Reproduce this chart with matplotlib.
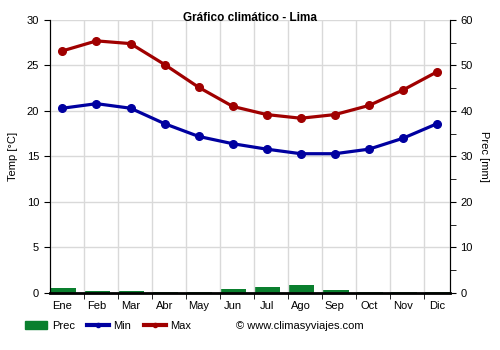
import matplotlib
matplotlib.use("Agg")
import matplotlib.pyplot as plt
from matplotlib.lines import Line2D
from matplotlib.patches import Patch

meses = ["Ene", "Feb", "Mar", "Abr", "May", "Jun", "Jul", "Ago", "Sep", "Oct", "Nov", "Dic"]
t_max = [26.6, 27.7, 27.4, 25.1, 22.6, 20.5, 19.6, 19.2, 19.6, 20.6, 22.3, 24.3]
t_min = [20.3, 20.8, 20.3, 18.6, 17.2, 16.4, 15.8, 15.3, 15.3, 15.8, 17.0, 18.6]
prec = [1.0, 0.4, 0.4, 0.3, 0.3, 0.8, 1.3, 1.7, 0.7, 0.3, 0.3, 0.3]

C_PREC = "#0a7f2e"
C_MIN = "#0000a0"
C_MAX = "#a00000"

plt.rcParams["font.family"] = ["Liberation Sans", "DejaVu Sans"]

fig = plt.figure(figsize=(5, 3.5), dpi=100)
ax = fig.add_axes([0.099, 0.163, 0.801, 0.780])
ax2 = ax.twinx()

x = list(range(len(meses)))
off = 0.38

# precipitation bars on the right axis, drawn under the temperature lines
ax2.bar([i - off for i in x], prec, width=0.78, align="edge", color=C_PREC, zorder=2)
ax2.set_ylim(0, 60)
ax2.set_yticks(range(0, 61, 10))
ax2.set_yticks(range(5, 60, 10), minor=True)
ax2.tick_params(axis="y", which="both", labelsize=8, length=4, direction="out")
ax2.set_ylabel("Prec [mm]", fontsize=8, rotation=-90, labelpad=12)

ax.set_zorder(ax2.get_zorder() + 1)
ax.patch.set_visible(False)

ax.plot(x, t_max, color=C_MAX, lw=2.3, marker="o", ms=5.5, zorder=5)
ax.plot(x, t_min, color=C_MIN, lw=2.3, marker="o", ms=5.5, zorder=5)

ax.set_xlim(-off, 11 + off)
ax.set_ylim(0, 30)
ax.set_yticks(range(0, 31, 5))
ax.set_xticks(x)
ax.set_xticklabels(meses)
ax.set_xticks([i - off for i in range(1, 12)], minor=True)
ax.tick_params(axis="x", which="major", length=0, labelsize=8, pad=6)
ax.tick_params(axis="x", which="minor", length=4)
ax.tick_params(axis="y", labelsize=8, length=4)
ax.set_ylabel("Temp [°C]", fontsize=8, labelpad=6)

ax2.grid(False)
ax.yaxis.grid(True, color="#d9d9d9", lw=1)
ax.xaxis.grid(True, which="minor", color="#d9d9d9", lw=1)
ax.set_axisbelow(True)
for a in (ax, ax2):
    a.spines["top"].set_visible(False)
ax.spines["bottom"].set_linewidth(2)

fig.text(0.5, 0.949, "Gráfico climático - Lima", ha="center", va="center",
         fontsize=8.5, fontweight="bold")

handles = [
    Patch(color=C_PREC),
    Line2D([], [], color=C_MIN, lw=3, marker="o", ms=3),
    Line2D([], [], color=C_MAX, lw=3, marker="o", ms=3),
]
fig.legend(handles, ["Prec", "Min", "Max"], loc="center left",
           bbox_to_anchor=(0.03, 0.068), ncol=3, frameon=False, fontsize=8,
           handlelength=2.0, handleheight=0.7, handletextpad=0.4,
           columnspacing=1.1)
fig.text(0.472, 0.068, "© www.climasyviajes.com", ha="left", va="center", fontsize=8)

fig.savefig("out.png", dpi=100)
